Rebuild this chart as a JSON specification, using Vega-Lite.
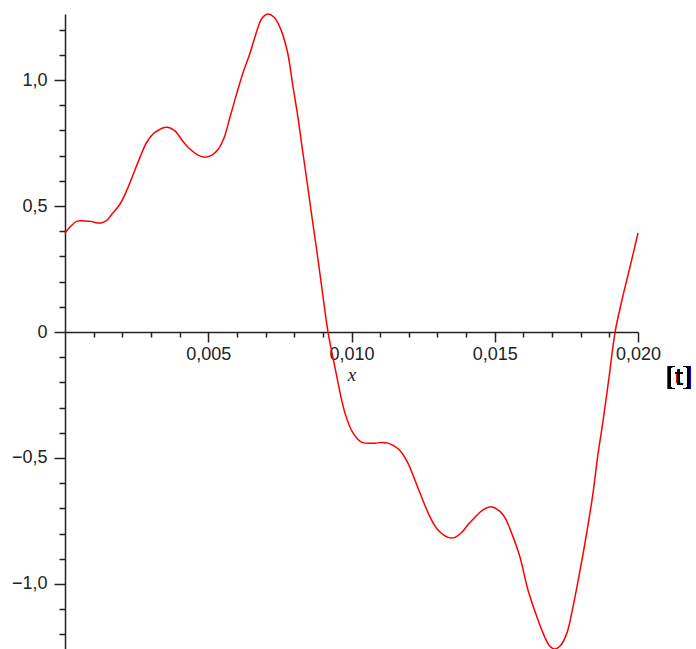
{
  "$schema": "https://vega.github.io/schema/vega-lite/v6.json",
  "autosize": {"type": "none"},
  "padding": {"left": 65, "top": 14, "right": 58, "bottom": 0},
  "width": 573,
  "height": 635,
  "background": "white",
  "config": {"view": {"stroke": null}},
  "data": {"values": [
    {"t": 0.0, "v": 0.393}, {"t": 0.000175, "v": 0.417}, {"t": 0.00042, "v": 0.44}, {"t": 0.00066, "v": 0.441},
    {"t": 0.00091, "v": 0.439}, {"t": 0.00108, "v": 0.434}, {"t": 0.00126, "v": 0.433}, {"t": 0.00147, "v": 0.444},
    {"t": 0.00164, "v": 0.468}, {"t": 0.00192, "v": 0.508}, {"t": 0.00216, "v": 0.563}, {"t": 0.00262, "v": 0.694},
    {"t": 0.00286, "v": 0.754}, {"t": 0.00314, "v": 0.792}, {"t": 0.00356, "v": 0.813}, {"t": 0.00384, "v": 0.798},
    {"t": 0.00408, "v": 0.762}, {"t": 0.00436, "v": 0.726}, {"t": 0.00464, "v": 0.702}, {"t": 0.00489, "v": 0.694},
    {"t": 0.00513, "v": 0.702}, {"t": 0.00534, "v": 0.724}, {"t": 0.00555, "v": 0.77}, {"t": 0.00576, "v": 0.853},
    {"t": 0.00597, "v": 0.937}, {"t": 0.00621, "v": 1.028}, {"t": 0.00646, "v": 1.107}, {"t": 0.00663, "v": 1.171},
    {"t": 0.00688, "v": 1.246}, {"t": 0.00709, "v": 1.262}, {"t": 0.00729, "v": 1.25}, {"t": 0.0075, "v": 1.21},
    {"t": 0.00775, "v": 1.119}, {"t": 0.00796, "v": 0.972}, {"t": 0.00813, "v": 0.853}, {"t": 0.00827, "v": 0.738},
    {"t": 0.00845, "v": 0.595}, {"t": 0.00862, "v": 0.456}, {"t": 0.0088, "v": 0.313}, {"t": 0.00897, "v": 0.171},
    {"t": 0.00918, "v": 0.0}, {"t": 0.00942, "v": -0.139}, {"t": 0.00977, "v": -0.321}, {"t": 0.01005, "v": -0.4},
    {"t": 0.01037, "v": -0.438}, {"t": 0.01082, "v": -0.441}, {"t": 0.01099, "v": -0.439}, {"t": 0.01127, "v": -0.441},
    {"t": 0.01148, "v": -0.452}, {"t": 0.01169, "v": -0.47}, {"t": 0.01197, "v": -0.52}, {"t": 0.01239, "v": -0.639},
    {"t": 0.01274, "v": -0.734}, {"t": 0.01302, "v": -0.786}, {"t": 0.01337, "v": -0.815}, {"t": 0.01361, "v": -0.815},
    {"t": 0.01386, "v": -0.794}, {"t": 0.01407, "v": -0.764}, {"t": 0.01431, "v": -0.735}, {"t": 0.01459, "v": -0.706},
    {"t": 0.0149, "v": -0.694}, {"t": 0.01518, "v": -0.712}, {"t": 0.01536, "v": -0.738}, {"t": 0.01564, "v": -0.813},
    {"t": 0.01588, "v": -0.893}, {"t": 0.01616, "v": -1.024}, {"t": 0.01651, "v": -1.143}, {"t": 0.01672, "v": -1.204},
    {"t": 0.01691, "v": -1.245}, {"t": 0.0171, "v": -1.258}, {"t": 0.01731, "v": -1.242}, {"t": 0.01752, "v": -1.194},
    {"t": 0.01773, "v": -1.091}, {"t": 0.01798, "v": -0.944}, {"t": 0.01822, "v": -0.79}, {"t": 0.01843, "v": -0.639},
    {"t": 0.0186, "v": -0.488}, {"t": 0.01878, "v": -0.353}, {"t": 0.01899, "v": -0.179}, {"t": 0.0192, "v": 0.0},
    {"t": 0.01944, "v": 0.127}, {"t": 0.01972, "v": 0.258}, {"t": 0.02, "v": 0.393}
  ]},
  "layer": [
    {
      "mark": {"type": "line", "color": "#ff0000", "strokeWidth": 1.5, "clip": false, "interpolate": "catmull-rom"},
      "encoding": {
        "x": {
          "field": "t", "type": "quantitative",
          "scale": {"domain": [0, 0.02], "nice": false, "zero": false},
          "axis": {
            "orient": "bottom", "offset": -317,
            "values": [0.005, 0.01, 0.015, 0.02],
            "labelExpr": "replace(format(datum.value, '.3f'), '.', ',')",
            "tickSize": 10, "tickWidth": 1.5, "tickColor": "#222222",
            "domainColor": "#222222", "domainWidth": 1.5,
            "labelFont": "Liberation Sans", "labelFontSize": 18, "labelColor": "#222222",
            "labelPadding": 3, "labelFlush": false, "labelOverlap": false,
            "grid": false,
            "title": "x", "titleFont": "Liberation Serif", "titleFontStyle": "italic",
            "titleFontWeight": "normal", "titleFontSize": 19, "titleColor": "#222222", "titlePadding": 2
          }
        },
        "y": {
          "field": "v", "type": "quantitative",
          "scale": {"domain": [-1.258, 1.262], "nice": false, "zero": false},
          "axis": {
            "orient": "left",
            "values": [-1, -0.5, 0, 0.5, 1],
            "labelExpr": "datum.value == 0 ? '0' : replace(format(datum.value, '.1f'), '.', ',')",
            "tickSize": 11, "tickWidth": 1.5, "tickColor": "#222222",
            "domainColor": "#222222", "domainWidth": 1.5,
            "labelFont": "Liberation Sans", "labelFontSize": 18, "labelColor": "#222222",
            "labelPadding": 7, "labelFlush": false, "labelOverlap": false,
            "grid": false, "title": null
          }
        }
      }
    },
    {
      "mark": {"type": "line", "strokeOpacity": 0},
      "encoding": {
        "x": {
          "field": "t", "type": "quantitative",
          "axis": {
            "orient": "bottom", "offset": -317,
            "values": [0.001, 0.002, 0.003, 0.004, 0.006, 0.007, 0.008, 0.009, 0.011, 0.012, 0.013, 0.014, 0.016, 0.017, 0.018, 0.019],
            "tickSize": 5, "tickWidth": 1.5, "tickColor": "#222222",
            "domain": false, "labels": false, "grid": false, "title": null
          }
        },
        "y": {
          "field": "v", "type": "quantitative",
          "axis": {
            "orient": "left",
            "values": [-1.2, -1.1, -0.9, -0.8, -0.7, -0.6, -0.4, -0.3, -0.2, -0.1, 0.1, 0.2, 0.3, 0.4, 0.6, 0.7, 0.8, 0.9, 1.1, 1.2],
            "tickSize": 6, "tickWidth": 1.5, "tickColor": "#222222",
            "domain": false, "labels": false, "grid": false, "title": null
          }
        }
      }
    },
    {
      "mark": {"type": "text", "text": "[t]", "font": "Liberation Serif", "fontSize": 27, "fontWeight": "normal", "color": "#000000", "align": "center", "baseline": "middle"},
      "encoding": {
        "x": {"datum": 0.02143, "type": "quantitative", "axis": null},
        "y": {"datum": -0.18, "type": "quantitative", "axis": null}
      }
    }
  ],
  "resolve": {"axis": {"x": "independent", "y": "independent"}}
}
